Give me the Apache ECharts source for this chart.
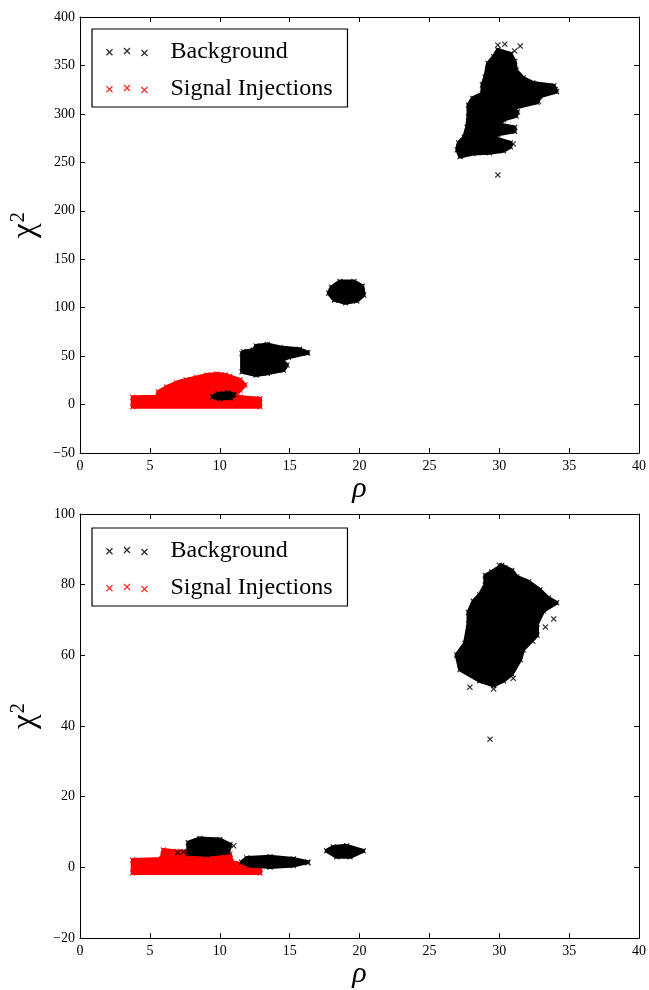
<!DOCTYPE html>
<html>
<head>
<meta charset="utf-8">
<script src="https://cdn.jsdelivr.net/npm/echarts@6/dist/echarts.min.js"></script>
<style>
html,body{margin:0;padding:0;background:#fff;}
#c{width:649px;height:990px;}
</style>
</head>
<body>
<div id="c"></div>
<script>
// ---------------- DATA ----------------
const seriesNames = ['Background', 'Signal Injections'];
const xTicks = [0, 5, 10, 15, 20, 25, 30, 35, 40];
const yTicksTop = [-50, 0, 50, 100, 150, 200, 250, 300, 350, 400];
const yTicksBottom = [-20, 0, 20, 40, 60, 80, 100];

// Top panel: outlines of the dense background clouds (rho, chi^2)
const topBgMain = [[29.9,366],[30.8,362],[31.1,354],[31.2,345],[31.7,337],[32.4,332],[33.9,329],[34.1,323],[32.9,318],[32.7,312],[31.0,306],[31.3,302],[31.2,298],[30.3,294],[30.0,289],[31.1,286],[31.1,282],[29.9,279],[29.7,275],[30.8,270],[30.8,266],[30.3,262],[29.3,260],[28.1,259],[27.2,256],[27.0,263],[27.1,270],[27.5,276],[27.7,286],[27.8,297],[27.8,309],[28.1,316],[28.8,321],[28.8,330],[29.0,338],[29.2,352],[29.6,359]];
const topBgMid = [[17.8,115],[18.2,108],[19.0,105],[19.8,107],[20.3,113],[20.2,122],[19.6,127],[18.6,127],[18.0,121]];
const topBgLow = [[11.6,52.8],[11.7,54.5],[12.4,56.2],[12.6,60.4],[13.4,62],[14.3,59],[15.7,57],[16.3,53.5],[14.9,48.7],[14.4,45.9],[14.8,40.8],[14.55,35.6],[13.4,32.2],[12.6,30.4],[11.6,33.9]];
const topBgSmall = [[9.5,8],[9.9,11],[10.6,12],[11.0,10.5],[10.8,7],[10.0,6.2]];
const topBgOutliers = [[29.9,371],[30.4,372],[31.5,370],[31.1,365],[29.9,237],[34.0,325],[33.5,327],[32.8,313],[31.0,269],[30.6,267],[29.6,264],[16.2,53.5],[10.9,9.5]];
// Top panel: outline of the signal-injection cloud
const topSig = [[3.77,-2.3],[3.77,7.5],[5.6,8],[5.6,13],[6.2,18],[6.9,22.5],[7.6,25.5],[8.35,28],[9.1,30.5],[9.8,31.5],[10.4,30.5],[10.7,29],[11.45,25.5],[11.8,20.1],[11.45,15],[11.1,9.8],[11.5,7.5],[12.88,6],[12.88,-2.3]];

// Bottom panel: background clouds
const botBgMain = [[30.17,85.4],[30.9,84],[31.25,82.2],[32.1,80.8],[32.9,78.5],[33.5,76.2],[34.1,74.9],[33.15,72.6],[32.7,68.9],[32.7,65.7],[31.7,61.6],[31.5,58.8],[30.9,54.7],[30.3,52.8],[29.6,51.5],[28.6,52.8],[27.2,56],[26.95,60.1],[27.55,63.4],[27.8,68.9],[27.8,72.1],[28.15,75.3],[28.6,77.1],[29.0,79.9],[29.0,82.6],[29.46,83.6]];
const botBgA = [[7.75,7.0],[8.59,8.2],[10.0,7.9],[10.73,6.5],[10.6,4.2],[9.07,3.6],[7.75,3.9]];
const botBgB = [[11.57,1.46],[11.93,2.66],[13.6,3.0],[15.26,2.4],[16.3,1.5],[15.26,0.55],[13.6,0.1],[12.16,0.55]];
const botBgC = [[17.65,4.7],[18.13,5.8],[19.08,6.1],[20.27,4.7],[19.32,3.0],[18.37,3.0]];
const botBgOutliers = [[29.34,36.3],[27.9,51],[33.9,70.3],[30.0,85.5],[30.4,84.8],[33.3,68],[32.4,64],[31.6,61.5],[31.0,53.5],[29.6,50.5],[11.0,6.1],[16.3,1.3],[7.0,4.2],[7.4,4.4]];
// Bottom panel: signal-injection cloud
const botSig = [[3.77,-1.56],[3.77,2.1],[5.84,2.4],[5.96,4.9],[6.92,4.5],[7.99,4.5],[8.2,4.0],[10.73,3.8],[10.85,1.5],[11.45,1.0],[12.88,-0.6],[12.88,-1.56]];

const topBgClouds = [topBgMain, topBgMid, topBgLow, topBgSmall];
const topSigClouds = [topSig];
const botBgClouds = [botBgMain, botBgA, botBgB, botBgC];
const botSigClouds = [botSig];

// ---------------- STYLE ----------------
const FONT = '"Liberation Serif", "Times New Roman", serif';
const BLACK = '#000000';
const RED = '#ff0000';
function xShape(dx, dy) {
  const p = [[0,1.4],[1.4,0],[5,3.6],[8.6,0],[10,1.4],[6.4,5],[10,8.6],[8.6,10],[5,6.4],[1.4,10],[0,8.6],[3.6,5]];
  return 'M' + p.map(q => (q[0]+dx) + ',' + (q[1]+dy)).join('L') + 'Z';
}
const X_SYMBOL = 'path://' + xShape(0, 0);
const LEGEND_ICON = 'path://' + xShape(0, 2) + xShape(25, 0) + xShape(50, 3) + 'M85,6L85.001,6L85,6.001Z';

const fmt = v => String(v).replace('-', '\u2212');

function blobRender(list, color) {
  return function (params, api) {
    const pts = list[api.value(2)].map(p => api.coord(p));
    return { type: 'polygon', shape: { points: pts },
      style: { fill: color, stroke: color, lineWidth: 4, lineJoin: 'round' } };
  };
}
function blobData(list) { return list.map((c, i) => [c[0][0], c[0][1], i]); }

function axesFor(gi, yMin, yMax, yInt) {
  const common = { min: 0, max: 40, interval: 5, gridIndex: gi, type: 'value',
    splitLine: { show: false },
    axisLine: { onZero: false, lineStyle: { color: BLACK, width: 1 } },
    axisTick: { inside: true, length: 5, lineStyle: { color: BLACK } } };
  const xs = [
    Object.assign({}, common, { position: 'bottom',
      axisLabel: { fontFamily: FONT, fontSize: 14, color: BLACK, margin: 6, formatter: fmt },
      name: 'ρ', nameLocation: 'middle', nameGap: 10,
      nameTextStyle: { fontFamily: FONT, fontSize: 30, fontStyle: 'italic', color: BLACK } }),
    Object.assign({}, common, { position: 'top', axisLabel: { show: false } })
  ];
  const ycommon = { min: yMin, max: yMax, interval: yInt, gridIndex: gi, type: 'value',
    splitLine: { show: false },
    axisLine: { show: true, onZero: false, lineStyle: { color: BLACK, width: 1 } },
    axisTick: { inside: true, length: 5, lineStyle: { color: BLACK } } };
  const ys = [
    Object.assign({}, ycommon, { position: 'left',
      axisLabel: { fontFamily: FONT, fontSize: 14, color: BLACK, margin: 5, formatter: fmt },
      name: '{a|χ}{b|2}', nameLocation: 'middle', nameGap: 31, nameRotate: 90,
      nameTextStyle: { fontFamily: FONT, color: BLACK,
        rich: { a: { fontFamily: FONT, fontSize: 33, color: BLACK, padding: [0,0,0,20] }, b: { fontFamily: FONT, fontSize: 21, color: BLACK, verticalAlign: 'top', padding: [0,0,14,1] } } } }),
    Object.assign({}, ycommon, { position: 'right', axisLabel: { show: false } })
  ];
  return { xs, ys };
}

const a0 = axesFor(0, -50, 400, 50);
const a1 = axesFor(1, -20, 100, 20);

function legendFor(top) {
  return {
    data: seriesNames, orient: 'vertical', left: 92, top: top,
    icon: LEGEND_ICON, itemWidth: 59.5, itemHeight: 9.1, itemGap: 13,
    padding: [11, 15, 6, 14], borderColor: BLACK, borderWidth: 1.2, backgroundColor: '#fff',
    textStyle: { fontFamily: FONT, fontSize: 24, color: BLACK },
    selectedMode: false
  };
}

function panelSeries(xi, yi, bgClouds, bgOut, sigClouds) {
  return [
    { name: 'Background', type: 'scatter', xAxisIndex: xi, yAxisIndex: yi, symbol: X_SYMBOL, symbolSize: 6,
      itemStyle: { color: BLACK }, z: 4, data: [].concat(...bgClouds, bgOut) },
    { name: 'Signal Injections', type: 'scatter', xAxisIndex: xi, yAxisIndex: yi, symbol: X_SYMBOL, symbolSize: 6,
      itemStyle: { color: RED }, z: 2, data: [].concat(...sigClouds) },
    { name: 'Background', type: 'custom', xAxisIndex: xi, yAxisIndex: yi, itemStyle: { color: BLACK }, z: 3,
      renderItem: blobRender(bgClouds, BLACK), encode: { x: 0, y: 1 }, data: blobData(bgClouds) },
    { name: 'Signal Injections', type: 'custom', xAxisIndex: xi, yAxisIndex: yi, itemStyle: { color: RED }, z: 1,
      renderItem: blobRender(sigClouds, RED), encode: { x: 0, y: 1 }, data: blobData(sigClouds) }
  ];
}

const option = {
  animation: false,
  backgroundColor: '#ffffff',
  grid: [
    { left: 80, right: 10, top: 17, height: 436 },
    { left: 80, right: 10, top: 514, height: 436 }
  ],
  xAxis: [a0.xs[0], a0.xs[1], a1.xs[0], a1.xs[1]],
  yAxis: [a0.ys[0], a0.ys[1], a1.ys[0], a1.ys[1]],
  legend: [legendFor(29), legendFor(528)],
  series: [].concat(
    panelSeries(0, 0, topBgClouds, topBgOutliers, topSigClouds),
    panelSeries(2, 2, botBgClouds, botBgOutliers, botSigClouds)
  )
};

const chart = echarts.init(document.getElementById('c'), null, { renderer: 'canvas' });
chart.setOption(option);
</script>
</body>
</html>
